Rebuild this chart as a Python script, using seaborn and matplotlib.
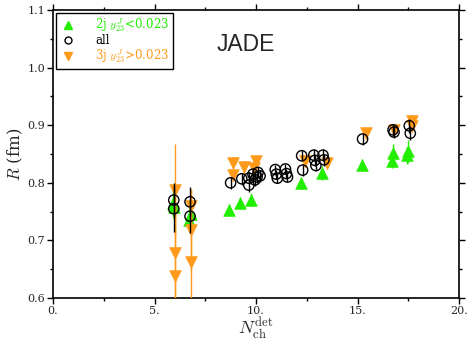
import matplotlib
matplotlib.use("Agg")
import matplotlib.pyplot as plt
from matplotlib.lines import Line2D
from matplotlib.ticker import MultipleLocator, FuncFormatter
import seaborn as sns
import pandas as pd

# ---- data ----
two_jet_x = [5.9, 5.95, 6.7, 6.8, 8.65, 9.2, 9.75, 12.2, 13.25, 15.2, 16.7, 16.75, 17.45, 17.5]
two_jet_y = [0.765, 0.758, 0.735, 0.745, 0.753, 0.765, 0.771, 0.800, 0.817, 0.831, 0.838, 0.852, 0.848, 0.855]
two_jet_err = [0.025, 0.02, 0.02, 0.02, 0.01, 0.01, 0.012, 0.01, 0.012, 0.01, 0.012, 0.015, 0.015, 0.02]

all_x = [5.95, 5.95, 6.75, 6.75, 8.75, 9.3, 9.65, 9.65, 9.85, 9.95, 10.05, 10.1, 10.2,
         10.95, 11.0, 11.05, 11.45, 11.5, 11.55, 12.25, 12.3, 12.85, 12.9, 12.95,
         13.3, 13.35, 15.25, 16.75, 16.8, 17.55, 17.6]
all_y = [0.770, 0.755, 0.767, 0.742, 0.800, 0.807, 0.796, 0.808, 0.815, 0.805, 0.810, 0.818, 0.812,
         0.823, 0.815, 0.808, 0.824, 0.816, 0.810, 0.847, 0.822, 0.848, 0.839, 0.830,
         0.848, 0.840, 0.876, 0.892, 0.888, 0.899, 0.886]
all_err = [0.03, 0.04, 0.025, 0.03, 0.01, 0.01, 0.012, 0.01, 0.01, 0.01, 0.01, 0.01, 0.01,
           0.008, 0.008, 0.008, 0.008, 0.008, 0.008, 0.01, 0.01, 0.01, 0.01, 0.01,
           0.01, 0.01, 0.01, 0.01, 0.01, 0.012, 0.012]

three_jet_x = [6.0, 6.0, 6.0, 6.8, 6.8, 6.8, 8.85, 8.85, 9.4, 9.9, 10.0, 12.4, 13.5, 15.4, 16.8, 17.7, 17.7]
three_jet_y = [0.787, 0.678, 0.638, 0.760, 0.718, 0.663, 0.834, 0.813, 0.827, 0.826, 0.838, 0.838, 0.834, 0.886, 0.892, 0.908, 0.898]
three_jet_err = [0.08, 0.10, 0.12, 0.03, 0.07, 0.08, 0.01, 0.01, 0.01, 0.01, 0.01, 0.01, 0.01, 0.01, 0.01, 0.01, 0.01]

x_ticks = [0, 5, 10, 15, 20]
y_ticks = [0.6, 0.7, 0.8, 0.9, 1.0, 1.1]

GREEN = "#22ee00"
ORANGE = "#ff9a1a"

sns.set_theme(style="white")
plt.rcParams["font.family"] = ["DejaVu Serif"]
plt.rcParams["mathtext.fontset"] = "cm"

fig = plt.figure(figsize=(4.70, 3.42), dpi=100)
ax = fig.add_axes([53 / 470, 1 - 298 / 342, (459 - 53) / 470, (298 - 10) / 342])

df2 = pd.DataFrame({"x": two_jet_x, "y": two_jet_y, "e": two_jet_err})
dfa = pd.DataFrame({"x": all_x, "y": all_y, "e": all_err})
df3 = pd.DataFrame({"x": three_jet_x, "y": three_jet_y, "e": three_jet_err})

# green 2-jet
ax.errorbar(df2.x, df2.y, yerr=df2.e, fmt="none", ecolor=GREEN, elinewidth=1.0, zorder=2)
sns.scatterplot(data=df2, x="x", y="y", marker="^", s=70, color=GREEN, edgecolor=GREEN,
                linewidth=0.5, ax=ax, zorder=3)
# orange 3-jet
ax.errorbar(df3.x, df3.y, yerr=df3.e, fmt="none", ecolor=ORANGE, elinewidth=1.0, zorder=4)
sns.scatterplot(data=df3, x="x", y="y", marker="v", s=70, color=ORANGE, edgecolor=ORANGE,
                linewidth=0.5, ax=ax, zorder=5)
# all
ax.errorbar(dfa.x, dfa.y, yerr=dfa.e, fmt="none", ecolor="black", elinewidth=1.0, zorder=6)
sns.scatterplot(data=dfa, x="x", y="y", marker="o", s=55, facecolor="none", edgecolor="black",
                linewidth=1.0, ax=ax, zorder=7)

ax.set_xlim(0, 20)
ax.set_ylim(0.6, 1.1)
ax.set_xticks(x_ticks)
ax.set_yticks(y_ticks)
ax.xaxis.set_minor_locator(MultipleLocator(2.5))
ax.yaxis.set_minor_locator(MultipleLocator(0.05))
ax.xaxis.set_major_formatter(FuncFormatter(lambda v, p: f"{int(round(v))}."))
ax.yaxis.set_major_formatter(FuncFormatter(lambda v, p: f"{v:.1f}"))
ax.tick_params(which="both", direction="out", top=True, right=True, bottom=True, left=True,
               labelsize=8, width=1.0, color="black", pad=1.5)
ax.tick_params(which="major", length=4)
ax.tick_params(which="minor", length=2.5)
for s in ax.spines.values():
    s.set_visible(True)
    s.set_color("black")
    s.set_linewidth(1.2)

ax.set_xlabel(r"$N_{\rm ch}^{\rm det}$", fontsize=13, labelpad=0)
ax.set_ylabel(r"$R$ (fm)", fontsize=12, labelpad=2)

ax.text(9.5, 1.04, "JADE", fontsize=16.5, family=["Liberation Sans"], ha="center", va="center")

handles = [
    Line2D([], [], marker="^", color=GREEN, linestyle="none", markersize=6),
    Line2D([], [], marker="o", markerfacecolor="none", markeredgecolor="black", linestyle="none", markersize=5),
    Line2D([], [], marker="v", color=ORANGE, linestyle="none", markersize=6),
]
labels = [r"2j $y^{J}_{23}$<0.023", "all", r"3j $y^{J}_{23}$>0.023"]
leg = ax.legend(handles, labels, loc="upper left", fontsize=8.5, frameon=True, fancybox=False,
                edgecolor="black", framealpha=1, borderpad=0.3, labelspacing=0.0,
                handletextpad=1.6, handlelength=1.4, borderaxespad=0.25)
leg.get_frame().set_linewidth(1.0)
for t, c in zip(leg.get_texts(), [GREEN, "black", ORANGE]):
    t.set_color(c)

fig.savefig("out.png", dpi=100)
